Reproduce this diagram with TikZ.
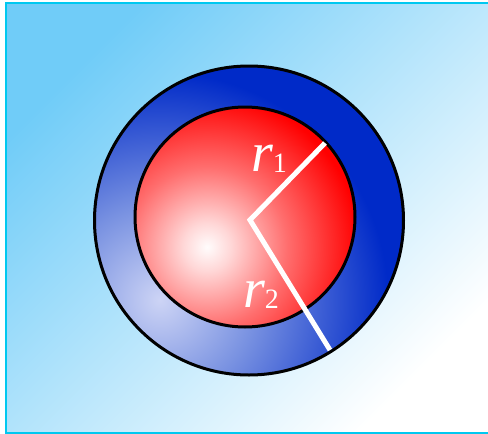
\documentclass[tikz,border=0pt]{standalone}
\usepackage{fontspec}
\setmainfont{Liberation Serif}
\definecolor{bgblue}{RGB}{112,204,248}
\definecolor{framecyan}{RGB}{0,200,240}
\definecolor{ringblue}{RGB}{0,42,200}
\definecolor{ringmid}{RGB}{120,145,225}
\definecolor{ringlight}{RGB}{205,212,245}
\definecolor{ballred}{RGB}{255,0,0}
\definecolor{ballpink}{RGB}{255,110,110}
\definecolor{balllight}{RGB}{255,215,215}
\definecolor{ballwhite}{RGB}{255,252,252}
\pgfdeclareradialshading{redball}{\pgfpoint{0bp}{0bp}}{color(0bp)=(ballwhite); color(3bp)=(balllight); color(10bp)=(ballpink); color(19bp)=(ballred); color(50bp)=(ballred)}
\pgfdeclareradialshading{bluering}{\pgfpoint{0bp}{0bp}}{color(0bp)=(ringlight); color(8bp)=(ringmid); color(19bp)=(ringblue); color(50bp)=(ringblue)}
\begin{document}
\begin{tikzpicture}[x=1pt,y=-1pt,
  rim/.style={draw=black,line width=3pt},
  radiusline/.style={draw=white,line width=5pt,line join=miter},
  lbl/.style={text=white,inner sep=0pt,anchor=base west}]
\useasboundingbox (0,0) rectangle (488,434);
\fill[white] (0,0) rectangle (488,434);
\begin{scope}
  \clip (0,0) rectangle (488,434);
  \shade[top color=bgblue, bottom color=white, shading angle=45] (6,2.5) rectangle (495,432.5);
  \draw[framecyan, line width=2pt] (6,2.5) rectangle (495,432.5);
\end{scope}
\coordinate (O) at (249,220.5);
\coordinate (I) at (245,217);
\coordinate (C) at (250,220);
\coordinate (E1) at (325,143);
\coordinate (E2) at (330,350);
\begin{scope}
  \clip (O) circle (154.5);
  \shade[shading=bluering] (-140,0) rectangle (460,600);
\end{scope}
\begin{scope}
  \clip (I) circle (110);
  \shade[shading=redball] (7,47) rectangle (407,447);
\end{scope}
\draw[rim] (O) circle (154.5);
\draw[rim] (I) circle (110);
\draw[radiusline] (E1) -- (C) -- (E2);
\node[lbl] (r1) at (251,171) {\fontsize{56}{56}\selectfont\itshape r\upshape\raisebox{-1pt}{\fontsize{28}{28}\selectfont 1}};
\node[lbl] (r2) at (243,307) {\fontsize{56}{56}\selectfont\itshape r\upshape\raisebox{-1pt}{\fontsize{28}{28}\selectfont 2}};
\end{tikzpicture}
\end{document}
